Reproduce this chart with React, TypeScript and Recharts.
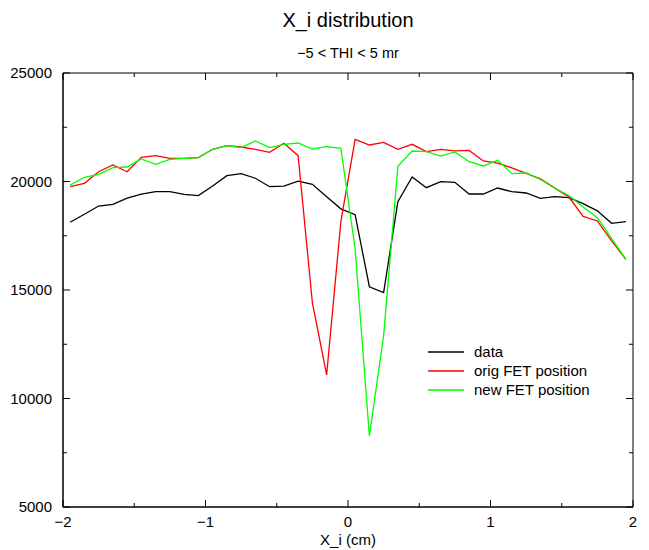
import { LineChart, Line, XAxis, YAxis, ReferenceArea, Legend } from 'recharts'

// bin centres (cm)
const xi = [
  -1.95, -1.85, -1.75, -1.65, -1.55, -1.45, -1.35, -1.25, -1.15, -1.05,
  -0.95, -0.85, -0.75, -0.65, -0.55, -0.45, -0.35, -0.25, -0.15, -0.05,
  0.05, 0.15, 0.25, 0.35, 0.45, 0.55, 0.65, 0.75, 0.85, 0.95,
  1.05, 1.15, 1.25, 1.35, 1.45, 1.55, 1.65, 1.75, 1.85, 1.95,
]

const dataCounts = [
  18120, 18490, 18870, 18950, 19230, 19420, 19530, 19530, 19410, 19350,
  19790, 20270, 20360, 20150, 19760, 19790, 20020, 19870, 19300, 18740,
  18470, 15150, 14880, 19070, 20210, 19715, 19990, 19960, 19424, 19424,
  19700, 19530, 19470, 19226, 19300, 19255, 18980, 18650, 18074, 18150,
]

const origFet = [
  19760, 19915, 20450, 20760, 20450, 21115, 21190, 21070, 21070, 21100,
  21484, 21650, 21590, 21484, 21345, 21760, 21190, 14415, 11084, 18150,
  21945, 21682, 21806, 21484, 21714, 21375, 21484, 21410, 21430, 20945,
  20850, 20630, 20376, 20124, 19708, 19286, 18394, 18180, 17266, 16415,
]

const newFet = [
  19840, 20194, 20332, 20638, 20668, 21037, 20793, 21023, 21070, 21100,
  21484, 21650, 21560, 21866, 21560, 21714, 21774, 21498, 21604, 21530,
  16900, 8270, 12900, 20700, 21405, 21375, 21175, 21360, 20914, 20715,
  20975, 20362, 20392, 20093, 19700, 19355, 18826, 18328, 17383, 16415,
]

const xTicks = [-2, -1.5, -1, -0.5, 0, 0.5, 1, 1.5, 2]
const yTicks = [5000, 7500, 10000, 12500, 15000, 17500, 20000, 22500, 25000]

const series = [
  { key: 'data', name: 'data', color: '#000000' },
  { key: 'orig', name: 'orig FET position', color: '#ff0000' },
  { key: 'new', name: 'new FET position', color: '#00ff00' },
]

const rows = xi.map((x, i) => ({ x, data: dataCounts[i], orig: origFet[i], new: newFet[i] }))

const W = 649
const H = 550
const M = { top: 73, right: 16, bottom: 0, left: 0 }
const Y_W = 63
const X_H = 43
const PLOT_W = W - M.left - M.right - Y_W
const PLOT_H = H - M.top - M.bottom - X_H
const PLOT_CX = M.left + Y_W + PLOT_W / 2

const FONT = '"Liberation Sans", Arial, Helvetica, sans-serif'
const minus = (v: number) => String(v).replace('-', '\u2212')

function XTick(props: any) {
  const { x, y, payload } = props
  const v = payload.value as number
  const major = Number.isInteger(v)
  const len = major ? 7 : 4
  return (
    <g>
      <line x1={x} x2={x} y1={y} y2={y - len} stroke="#000" />
      <line x1={x} x2={x} y1={y - PLOT_H} y2={y - PLOT_H + len} stroke="#000" />
      {major && (
        <text x={x} y={y + 20} textAnchor="middle" fontSize={15} fontFamily={FONT} fill="#000">
          {minus(v)}
        </text>
      )}
    </g>
  )
}

function YTick(props: any) {
  const { x, y, payload } = props
  const v = payload.value as number
  const major = v % 5000 === 0
  const len = major ? 7 : 4
  return (
    <g>
      <line x1={x} x2={x + len} y1={y} y2={y} stroke="#000" />
      <line x1={x + PLOT_W} x2={x + PLOT_W - len} y1={y} y2={y} stroke="#000" />
      {major && (
        <text x={x - 11} y={y + 5} textAnchor="end" fontSize={15} fontFamily={FONT} fill="#000">
          {v}
        </text>
      )}
    </g>
  )
}

// keep the legend in series order
function LegendBox() {
  return (
    <svg width={200} height={60} style={{ display: 'block' }}>
      {series.map((s, i) => (
        <g key={s.key} transform={`translate(0, ${10 + i * 19})`}>
          <line x1={0} x2={36} y1={0} y2={0} stroke={s.color} strokeWidth={1.3} />
          <text x={46} y={5} fontSize={15} fontFamily={FONT} fill="#000">{s.name}</text>
        </g>
      ))}
    </svg>
  )
}

export default function App() {
  const centred = { position: 'absolute' as const, left: PLOT_CX - 200, width: 400, textAlign: 'center' as const }
  return (
    <div style={{ position: 'absolute', left: 0, top: 0, width: W, height: H, background: '#fff', fontFamily: FONT }}>
      <div style={{ ...centred, top: 8, fontSize: 20, lineHeight: '24px' }}>X_i distribution</div>
      <div style={{ ...centred, top: 44, fontSize: 14.5, lineHeight: '18px' }}>{'\u22125 < THI < 5 mr'}</div>
      <div style={{ ...centred, top: 531, fontSize: 15, lineHeight: '18px' }}>X_i (cm)</div>
      <LineChart width={W} height={H} data={rows} margin={M}>
        <XAxis
          dataKey="x"
          type="number"
          domain={[-2, 2]}
          ticks={xTicks}
          height={X_H}
          tickSize={0}
          tickMargin={0}
          axisLine={{ stroke: '#000' }}
          tick={<XTick />}
          interval={0}
        />
        <YAxis
          type="number"
          domain={[5000, 25000]}
          ticks={yTicks}
          width={Y_W}
          tickSize={0}
          tickMargin={0}
          axisLine={{ stroke: '#000' }}
          tick={<YTick />}
          interval={0}
        />
        <ReferenceArea x1={-2} x2={2} y1={5000} y2={25000} fill="none" stroke="#000" strokeWidth={1} />
        {series.map((s) => (
          <Line
            key={s.key}
            dataKey={s.key}
            name={s.name}
            stroke={s.color}
            strokeWidth={1.3}
            dot={false}
            type="linear"
            isAnimationActive={false}
          />
        ))}
        <Legend
          layout="vertical"
          align="center"
          verticalAlign="middle"
          content={<LegendBox />}
          wrapperStyle={{ left: 428, top: 342, width: 200, height: 60 }}
        />
      </LineChart>
    </div>
  )
}
